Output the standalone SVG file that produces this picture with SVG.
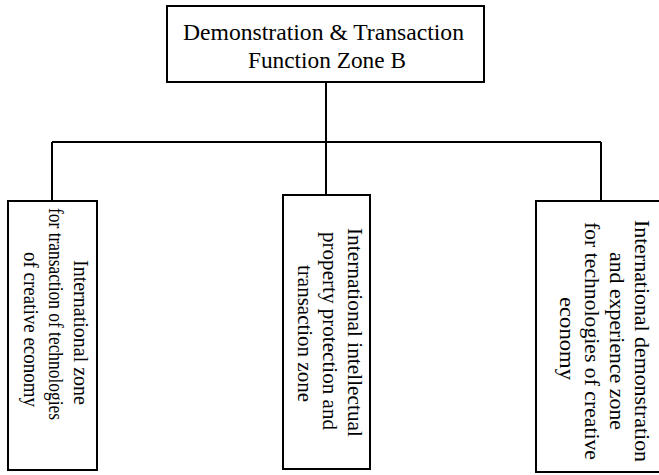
<svg xmlns="http://www.w3.org/2000/svg" width="659" height="475" viewBox="0 0 659 475">
<style>
.box{fill:#fff;stroke:#000;stroke-width:2}
.ln{fill:none;stroke:#000;stroke-width:2}
.t{font-family:"Liberation Serif","Times New Roman",serif;fill:#000}
.h{font-size:23.5px}
.v{font-size:21px}
</style>
<rect width="659" height="475" fill="#fff"/>
<g id="connectors">
<path class="ln" d="M326 82V142M52 142H601M52 142V201M326 142V195M601 142V201"/>
</g>
<g id="root">
<rect class="box" x="167" y="6" width="317" height="76"/>
<text class="t h" x="183" y="40" textLength="281" lengthAdjust="spacingAndGlyphs">Demonstration &amp; Transaction</text>
<text class="t h" x="248" y="68" textLength="158" lengthAdjust="spacingAndGlyphs">Function Zone B</text>
</g>
<g id="zone1">
<rect class="box" x="8" y="201" width="89" height="269"/>
<text class="t v" transform="translate(74,260) rotate(90)" textLength="145" lengthAdjust="spacingAndGlyphs">International zone</text>
<text class="t v" transform="translate(49,208) rotate(90)" textLength="212" lengthAdjust="spacingAndGlyphs">for transaction of technologies</text>
<text class="t v" transform="translate(24,252) rotate(90)" textLength="155" lengthAdjust="spacingAndGlyphs">of creative economy</text>
</g>
<g id="zone2">
<rect class="box" x="283" y="195" width="87" height="274"/>
<text class="t v" transform="translate(348,228) rotate(90)" textLength="209" lengthAdjust="spacingAndGlyphs">International intellectual</text>
<text class="t v" transform="translate(323,232) rotate(90)" textLength="198" lengthAdjust="spacingAndGlyphs">property protection and</text>
<text class="t v" transform="translate(298,265) rotate(90)" textLength="137" lengthAdjust="spacingAndGlyphs">transaction zone</text>
</g>
<g id="zone3">
<rect class="box" x="536" y="201" width="130" height="271"/>
<text class="t v" transform="translate(635,220) rotate(90)" textLength="242" lengthAdjust="spacingAndGlyphs">International demonstration</text>
<text class="t v" transform="translate(610,252) rotate(90)" textLength="178" lengthAdjust="spacingAndGlyphs">and experience zone</text>
<text class="t v" transform="translate(585,222) rotate(90)" textLength="238" lengthAdjust="spacingAndGlyphs">for technologies of creative</text>
<text class="t v" transform="translate(560,297) rotate(90)" textLength="83" lengthAdjust="spacingAndGlyphs">economy</text>
</g>
</svg>
